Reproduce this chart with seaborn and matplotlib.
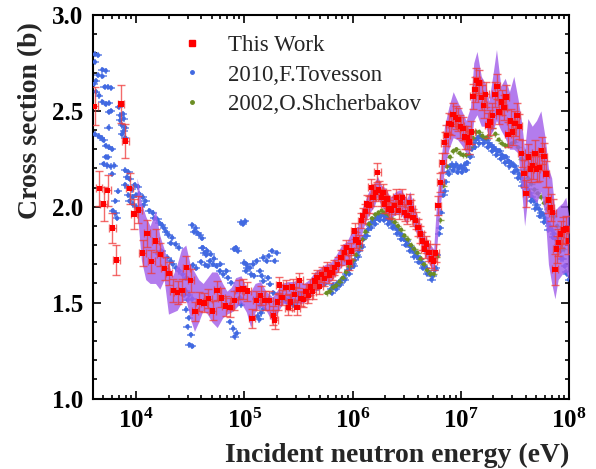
import numpy as np
import matplotlib
matplotlib.use('Agg')
import matplotlib.pyplot as plt
import seaborn as sns
from matplotlib.ticker import FuncFormatter, MultipleLocator, LogLocator, NullFormatter, FixedLocator
from matplotlib.lines import Line2D

# ---------------- data ----------------
# This Work (log10 of energy in eV, cross section in b, uncertainty in b)
red_logE = [3.618,3.660,3.701,3.738,3.781,3.819,3.861,3.901,3.942,3.981,
            4.021,4.062,4.102,4.142,4.182,4.224,4.264,4.304,4.344,4.384,
            4.424,4.466,4.506,4.546,4.586,4.628,4.668,4.708,4.748,4.789,
            4.829,4.869,4.909,4.949,4.989,5.030,5.071,5.111,5.151,5.192,
            5.231,5.270,5.282,5.310,5.324,5.347,5.387,5.407,5.426,5.447,
            5.465,5.488,5.509,5.526,5.546,5.571,5.593,5.611,5.632,5.655,
            5.673,5.694,5.716,5.741,5.762,5.787,5.812,5.833,5.864,5.895,
            5.926,5.942,5.966,5.988,6.019,6.034,6.058,6.081,6.095,6.120,
            6.132,6.151,6.173,6.188,6.210,6.229,6.243,6.266,6.281,6.296,
            6.318,6.336,6.358,6.389,6.405,6.426,6.442,6.460,6.481,6.503,
            6.528,6.543,6.558,6.583,6.605,6.627,6.645,6.667,6.682,6.706,
            6.729,6.750,6.769,6.790,6.812,6.831,6.852,6.868,6.892,6.914,
            6.929,6.954,6.975,6.997,7.021,7.037,7.058,7.077,7.099,7.114,
            7.130,7.145,7.169,7.192,7.213,7.231,7.253,7.269,7.293,7.315,
            7.336,7.355,7.377,7.398,7.417,7.438,7.460,7.479,7.500,7.521,
            7.540,7.562,7.583,7.602,7.623,7.645,7.664,7.685,7.701,7.725,
            7.747,7.769,7.787,7.808,7.831,7.849,7.870,7.886,7.901,7.923,
            7.947,7.972,7.994]
red_xs = [2.524,2.096,2.014,2.085,1.890,1.723,2.536,2.342,2.096,1.962,
          1.984,1.759,1.861,1.716,1.822,1.752,1.679,1.652,1.563,1.553,
          1.563,1.682,1.617,1.455,1.504,1.499,1.521,1.457,1.564,1.525,
          1.482,1.475,1.512,1.568,1.571,1.560,1.418,1.512,1.536,1.512,
          1.510,1.434,1.410,1.504,1.592,1.527,1.580,1.473,1.503,1.581,
          1.542,1.473,1.616,1.522,1.515,1.557,1.536,1.581,1.557,1.613,
          1.630,1.585,1.648,1.627,1.674,1.644,1.656,1.682,1.700,1.735,
          1.761,1.787,1.708,1.770,1.874,1.826,1.813,1.927,1.953,1.975,
          2.014,2.010,2.101,2.049,2.075,2.180,2.087,2.049,2.075,2.014,
          2.040,1.988,1.979,2.005,2.049,1.979,2.023,2.049,1.970,1.953,
          2.023,1.988,1.944,1.927,1.892,1.857,1.822,1.779,1.805,1.761,
          1.728,1.717,1.759,2.005,2.127,2.230,2.335,2.372,2.433,2.429,
          2.482,2.464,2.455,2.419,2.407,2.363,2.360,2.337,2.389,2.576,
          2.611,2.660,2.646,2.569,2.529,2.586,2.424,2.441,2.476,2.586,
          2.628,2.494,2.546,2.517,2.572,2.377,2.447,2.389,2.433,2.476,
          2.419,2.279,2.174,2.070,2.259,2.197,2.215,2.279,2.197,2.206,
          2.293,2.262,2.171,2.035,1.996,1.970,1.674,1.779,1.813,1.857,
          1.878,1.883,1.822]
red_err = [0.10,0.09,0.09,0.08,0.08,0.08,0.10,0.09,0.08,0.08,
           0.07,0.07,0.07,0.06,0.06,0.06,0.06,0.06,0.06,0.06,
           0.06,0.06,0.06,0.05,0.05,0.05,0.05,0.05,0.05,0.05,
           0.05,0.05,0.05,0.05,0.05,0.05,0.05,0.05,0.05,0.05,
           0.05,0.05,0.05,0.04,0.04,0.04,0.04,0.04,0.04,0.04,
           0.04,0.04,0.04,0.04,0.04,0.04,0.04,0.04,0.04,0.04,
           0.04,0.04,0.04,0.04,0.04,0.04,0.04,0.04,0.04,0.04,
           0.04,0.04,0.04,0.04,0.04,0.04,0.04,0.04,0.04,0.04,
           0.045,0.045,0.045,0.045,0.045,0.05,0.045,0.045,0.045,0.045,
           0.045,0.045,0.045,0.045,0.045,0.045,0.045,0.045,0.045,0.045,
           0.045,0.045,0.045,0.045,0.045,0.045,0.045,0.045,0.045,0.045,
           0.045,0.045,0.045,0.05,0.05,0.05,0.055,0.055,0.055,0.055,
           0.06,0.06,0.06,0.06,0.06,0.06,0.06,0.06,0.06,0.065,
           0.065,0.065,0.065,0.065,0.065,0.065,0.065,0.065,0.065,0.065,
           0.065,0.065,0.065,0.065,0.065,0.065,0.065,0.065,0.065,0.065,
           0.065,0.07,0.07,0.07,0.07,0.07,0.07,0.07,0.07,0.07,
           0.07,0.07,0.07,0.07,0.07,0.07,0.08,0.07,0.07,0.07,
           0.07,0.07,0.07]

# purple uncertainty band
band_logE = [4.01,4.05,4.09,4.13,4.18,4.22,4.26,4.30,4.34,4.38,
             4.42,4.46,4.50,4.54,4.58,4.62,4.66,4.70,4.75,4.80,
             4.84,4.88,4.92,4.97,5.02,5.06,5.10,5.15,5.20,5.26,
             5.30,5.35,5.40,5.45,5.50,5.55,5.60,5.65,5.70,5.75,
             5.80,5.85,5.90,5.95,6.00,6.05,6.10,6.15,6.20,6.23,
             6.27,6.30,6.35,6.40,6.45,6.50,6.53,6.57,6.62,6.67,
             6.71,6.75,6.78,6.81,6.85,6.89,6.93,6.97,7.01,7.05,
             7.09,7.12,7.15,7.19,7.23,7.26,7.30,7.33,7.37,7.41,
             7.45,7.49,7.53,7.56,7.59,7.62,7.66,7.70,7.74,7.78,
             7.81,7.84,7.87,7.90,7.94,7.97,8.00]
band_lo = [1.98,1.72,1.62,1.60,1.60,1.57,1.62,1.44,1.45,1.46,
           1.50,1.52,1.42,1.35,1.40,1.46,1.44,1.40,1.37,1.42,
           1.44,1.45,1.47,1.50,1.45,1.37,1.45,1.48,1.46,1.40,
           1.44,1.49,1.50,1.50,1.49,1.50,1.52,1.56,1.57,1.60,
           1.61,1.65,1.69,1.70,1.76,1.78,1.89,1.96,2.00,2.05,
           2.00,1.98,1.94,1.96,1.96,1.91,1.96,1.89,1.82,1.74,
           1.70,1.66,1.80,2.00,2.20,2.30,2.36,2.35,2.32,2.28,
           2.30,2.45,2.48,2.42,2.42,2.36,2.40,2.45,2.40,2.36,
           2.30,2.30,2.28,2.10,1.90,2.05,2.05,2.02,2.08,1.95,
           1.70,1.60,1.52,1.62,1.65,1.66,1.62]
band_hi = [2.15,2.02,1.95,1.90,1.98,1.85,1.78,1.70,1.64,1.70,
           1.78,1.80,1.70,1.66,1.62,1.60,1.63,1.66,1.66,1.60,
           1.56,1.58,1.63,1.64,1.58,1.56,1.60,1.61,1.56,1.53,
           1.56,1.60,1.61,1.61,1.62,1.60,1.62,1.66,1.68,1.70,
           1.71,1.75,1.80,1.82,1.88,1.90,2.01,2.08,2.12,2.16,
           2.11,2.10,2.05,2.08,2.09,2.04,2.08,2.00,1.92,1.84,
           1.81,1.78,2.05,2.20,2.42,2.52,2.60,2.55,2.50,2.45,
           2.52,2.75,2.81,2.68,2.64,2.55,2.70,2.82,2.63,2.67,
           2.60,2.68,2.56,2.45,2.30,2.46,2.42,2.45,2.50,2.36,
           2.20,2.15,1.98,2.00,2.02,2.05,1.95]

# 2010, F.Tovesson
blue_logE = [3.62,3.65,3.62,3.69,3.72,3.65,3.69,3.63,3.61,3.71,3.74,3.77,3.63,3.66,3.69,
             3.72,3.75,3.75,3.77,3.84,3.855,3.88,3.855,3.886,3.87,3.90,3.886,3.87,3.90,3.747,
             3.62,3.655,3.68,3.70,3.72,3.75,3.78,3.72,3.74,3.70,3.735,3.766,3.80,3.78,3.90,
             3.93,3.917,3.94,3.834,3.90,3.93,3.963,3.988,4.019,3.93,3.97,4.00,3.81,3.94,3.97,
             4.00,3.785,3.81,3.825,4.03,4.062,4.087,4.07,4.124,4.155,4.167,4.198,4.216,4.24,4.26,
             4.278,4.30,4.334,4.32,4.365,4.395,4.235,4.21,4.29,4.32,4.34,4.37,4.40,4.43,4.463,
             4.494,4.52,4.55,4.535,4.568,4.587,4.61,4.617,4.657,4.69,4.525,4.556,4.60,4.642,4.445,
             4.476,4.463,4.488,4.476,4.507,4.494,4.52,4.46,4.49,4.52,
             4.614,4.633,4.65,4.682,4.664,4.713,4.744,4.775,4.806,4.836,4.849,4.88,4.93,4.96,4.972,
             4.972,4.99,5.01,5.02,5.052,5.083,5.065,5.114,5.145,5.176,5.207,5.225,5.256,5.28,5.30,
             5.176,5.238,5.27,4.867,4.898,4.93,4.91,5.114,5.145,5.176,5.33,5.36,5.392,5.423,5.454,
             5.485,5.515,5.558,5.124,5.155,5.14,4.923,4.94,4.908,5.00,5.031,5.016,4.72,4.78,5.09,
             5.16,5.22,5.309,5.371,5.432,5.494,5.556,5.618,5.68,5.741,
             5.80,5.82,5.84,5.86,5.88,5.90,5.92,5.94,5.96,5.98,6.00,6.02,6.04,6.06,6.08,
             6.10,6.12,6.14,6.16,6.18,6.20,6.22,6.24,6.26,6.28,6.30,6.32,6.34,6.36,6.38,
             6.40,6.42,6.44,6.46,6.48,6.50,6.52,6.54,6.56,6.58,6.60,6.62,6.64,6.66,6.68,
             6.70,6.72,6.74,6.76,6.78,6.80,6.82,6.84,6.86,6.88,6.90,6.92,6.94,6.96,6.98,
             7.00,7.02,7.04,7.06,7.08,7.10,7.12,7.14,7.16,7.18,7.20,7.22,7.24,7.26,7.28,
             7.30,7.32,7.34,7.36,7.38,7.40,7.42,7.44,7.46,7.48,7.50,7.52,7.54,7.56,7.58,
             7.60,7.62,7.64,7.66,7.68,7.70,7.72,7.74,7.76,7.78,7.80,7.82,7.84,7.86,7.88,
             7.90,7.92,7.94,7.96,7.98,8.00,
             5.81,5.85,5.89,5.93,5.97,6.01,6.05,6.09,6.13,6.17,6.21,6.25,6.29,6.33,6.37,
             6.41,6.45,6.49,6.53,6.57,6.61,6.65,6.69,6.73,6.77,6.81,6.85,6.89,6.93,6.97,
             7.01,7.05,7.09,7.13,7.17,7.21,7.25,7.29,7.33,7.37,7.41,7.45,7.49,7.53,7.57,
             7.61,7.65,7.69,7.73,7.77,7.81,7.85,7.89,7.93,7.97]
blue_xs = [2.795,2.79,2.755,2.715,2.71,2.686,2.68,2.657,2.64,2.625,2.625,2.62,2.60,2.58,2.547,
           2.535,2.54,2.494,2.50,2.52,2.476,2.485,2.45,2.46,2.425,2.413,2.395,2.378,2.36,2.413,
           2.378,2.368,2.36,2.346,2.319,2.31,2.30,2.26,2.258,2.224,2.215,2.21,2.215,2.171,2.19,
           2.18,2.154,2.145,2.08,2.115,2.10,2.09,2.115,2.105,2.06,2.05,2.06,2.03,2.03,2.014,
           2.00,1.98,1.965,1.94,2.067,2.05,2.03,2.01,1.98,1.968,1.94,1.934,1.916,1.905,1.888,
           1.87,1.853,1.839,1.81,1.804,1.787,1.77,1.752,1.735,1.717,1.70,1.682,1.665,1.647,1.63,
           1.62,1.905,1.888,1.87,1.864,1.853,1.835,1.787,1.77,1.752,1.696,1.679,1.713,1.696,1.54,
           1.515,1.464,1.421,1.375,1.333,1.281,1.272,1.56,1.54,1.52,
           1.787,1.76,1.749,1.717,1.69,1.70,1.69,1.665,1.647,1.665,1.63,1.604,1.56,1.525,1.49,
           1.918,1.91,1.924,1.70,1.682,1.70,1.647,1.717,1.665,1.735,1.717,1.744,1.77,1.717,1.76,
           1.612,1.595,1.551,1.40,1.365,1.34,1.323,1.521,1.486,1.468,1.538,1.52,1.503,1.52,1.486,
           1.503,1.538,1.52,1.429,1.447,1.412,1.787,1.77,1.778,1.709,1.683,1.665,1.73,1.70,1.64,
           1.64,1.63,1.508,1.526,1.534,1.543,1.552,1.56,1.578,1.595,
           1.57,1.59,1.58,1.60,1.59,1.62,1.63,1.65,1.67,1.68,1.70,1.72,1.75,1.77,1.80,
           1.83,1.85,1.88,1.90,1.92,1.93,1.94,1.95,1.95,1.96,1.95,1.94,1.93,1.92,1.90,
           1.89,1.88,1.86,1.85,1.83,1.82,1.80,1.79,1.77,1.76,1.74,1.73,1.71,1.69,1.68,
           1.66,1.65,1.64,1.67,1.75,1.86,1.97,2.06,2.13,2.18,2.21,2.22,2.21,2.22,2.20,
           2.21,2.20,2.22,2.23,2.27,2.30,2.33,2.35,2.36,2.37,2.36,2.35,2.35,2.33,2.32,
           2.31,2.30,2.29,2.29,2.27,2.26,2.26,2.24,2.23,2.22,2.21,2.19,2.17,2.15,2.13,
           2.11,2.09,2.07,2.05,2.03,2.01,1.99,1.97,1.96,1.94,1.92,1.90,1.88,1.86,1.83,
           1.80,1.77,1.73,1.69,1.65,1.62,
           1.55,1.57,1.60,1.62,1.65,1.69,1.74,1.79,1.85,1.89,1.91,1.93,1.93,1.91,1.89,
           1.86,1.83,1.80,1.77,1.74,1.71,1.68,1.65,1.62,1.68,1.89,2.08,2.17,2.19,2.18,
           2.18,2.19,2.26,2.31,2.33,2.33,2.31,2.29,2.27,2.25,2.23,2.21,2.18,2.15,2.11,
           2.07,2.03,1.99,1.95,1.92,1.88,1.84,1.79,1.73,1.66]

# 2002, O.Shcherbakov
green_logE = [5.76,5.79,5.82,5.85,5.88,5.91,5.94,5.97,6.00,6.03,6.06,6.09,6.12,6.15,6.18,
              6.21,6.24,6.27,6.30,6.33,6.36,6.39,6.42,6.45,6.48,6.51,6.54,6.57,6.60,6.63,
              6.66,6.69,6.72,6.75,6.78,6.81,6.84,6.87,6.90,6.93,6.96,6.99,7.02,7.05,7.08,
              7.11,7.14,7.17,7.20,7.23,7.26,7.29,7.32,7.35,7.38,7.41,7.44,7.47,7.50,7.53,
              7.56,7.59,7.62,7.65,7.68,7.71,7.74,7.77,7.80,7.83,7.86,7.89,7.92,7.95]
green_xs = [1.55,1.56,1.58,1.59,1.61,1.63,1.66,1.69,1.72,1.75,1.79,1.83,1.87,1.91,1.94,
            1.96,1.97,1.98,1.97,1.96,1.94,1.92,1.90,1.88,1.85,1.83,1.80,1.78,1.76,1.73,
            1.70,1.67,1.65,1.65,1.74,1.93,2.11,2.21,2.26,2.29,2.30,2.28,2.27,2.27,2.31,
            2.36,2.39,2.39,2.37,2.36,2.37,2.41,2.38,2.35,2.33,2.32,2.32,2.33,2.34,2.31,
            2.25,2.19,2.15,2.12,2.09,2.07,2.05,2.02,1.99,1.97,1.95,1.90,1.84,1.78]

labels = ["This Work", "2010,F.Tovesson", "2002,O.Shcherbakov"]

# ---------------- style ----------------
sns.set_theme(style="ticks")
plt.rcParams['font.family'] = ['Liberation Serif', 'DejaVu Serif']
plt.rcParams['font.weight'] = 'bold'
plt.rcParams['mathtext.fontset'] = 'custom'
plt.rcParams['mathtext.rm'] = 'Liberation Serif:bold'
plt.rcParams['mathtext.bf'] = 'Liberation Serif:bold'
plt.rcParams['mathtext.it'] = 'Liberation Serif:bold:italic'

RED = '#FF0000'
BLUE = '#4169E1'
GREEN = '#6B8E23'
PURPLE = '#A35FEA'

fig = plt.figure(figsize=(5.96, 4.69), dpi=100)
ax = fig.add_axes([92.7/596, 1 - 398.5/469, 476.3/596, 383.5/469])
ax.set_xscale('log')

def to_E(lst):
    return 10.0 ** np.asarray(lst, dtype=float)

def xerr_of(E, d):
    return np.vstack([E - E * 10 ** (-d), E * 10 ** d - E])

# Tovesson
bE = to_E(blue_logE); bY = np.asarray(blue_xs)
ax.errorbar(bE, bY, xerr=xerr_of(bE, 0.038), yerr=0.016, fmt='none',
            ecolor=BLUE, elinewidth=1.1, alpha=0.8, zorder=2)
sns.scatterplot(x=bE, y=bY, ax=ax, color=BLUE, marker='o', s=10,
                edgecolor='none', linewidth=0, zorder=3, legend=False)

# Shcherbakov
gE = to_E(green_logE); gY = np.asarray(green_xs)
ax.errorbar(gE, gY, xerr=xerr_of(gE, 0.032), yerr=0.014, fmt='none',
            ecolor=GREEN, elinewidth=1.0, alpha=0.75, zorder=3)
sns.scatterplot(x=gE, y=gY, ax=ax, color=GREEN, marker='o', s=9,
                edgecolor='none', linewidth=0, zorder=4, legend=False)

# band
ax.fill_between(to_E(band_logE), band_lo, band_hi, color=PURPLE, alpha=0.82,
                linewidth=0, zorder=5)

# This work
rE = to_E(red_logE); rY = np.asarray(red_xs)
ax.errorbar(rE, rY, yerr=red_err, xerr=xerr_of(rE, 0.03), fmt='none',
            ecolor='#F03a3a', elinewidth=1.0, capsize=3, capthick=1.0,
            alpha=0.75, zorder=6)
sns.scatterplot(x=rE, y=rY, ax=ax, color=RED, marker='s', s=15,
                edgecolor='none', linewidth=0, zorder=7, legend=False)

# axes
ax.set_xlim(10 ** 3.6, 1e8)
ax.set_ylim(1.0, 3.0)
ax.xaxis.set_major_locator(FixedLocator([1e4, 1e5, 1e6, 1e7, 1e8]))
ax.xaxis.set_major_formatter(FuncFormatter(lambda v, p: r'$\mathbf{10^{%d}}$' % int(round(np.log10(v)))))
ax.xaxis.set_minor_locator(LogLocator(base=10, subs=np.arange(2, 10), numticks=20))
ax.xaxis.set_minor_formatter(NullFormatter())
ax.yaxis.set_major_locator(MultipleLocator(0.5))
ax.yaxis.set_minor_locator(MultipleLocator(0.1))
ax.yaxis.set_major_formatter(FuncFormatter(lambda v, p: '%.1f' % v))

ax.tick_params(which='both', direction='in', top=True, right=True, width=1.2,
               labelsize=18, colors='black')
ax.tick_params(which='major', length=6, pad=7)
ax.tick_params(which='minor', length=3)
for sp in ax.spines.values():
    sp.set_linewidth(1.5)
    sp.set_color('black')
for lbl in ax.get_yticklabels():
    lbl.set_fontweight('bold')

ax.set_xlabel('Incident neutron energy (eV)', fontsize=20, fontweight='bold')
ax.set_ylabel('Cross section (b)', fontsize=20, fontweight='bold')
ax.xaxis.set_label_coords(1.0, -0.115)
ax.xaxis.label.set_ha('right')
ax.yaxis.set_label_coords(-0.105, 0.726)

handles = [Line2D([], [], linestyle='none', marker='s', markersize=4, color=RED),
           Line2D([], [], linestyle='none', marker='o', markersize=2.5, color=BLUE),
           Line2D([], [], linestyle='none', marker='o', markersize=2.5, color=GREEN)]
ax.legend(handles, labels, loc='upper left', bbox_to_anchor=(0.184, 0.948),
          frameon=False, borderpad=0, borderaxespad=0, handlelength=1.0,
          handletextpad=1.07, labelspacing=0.37,
          prop={'family': 'Liberation Serif', 'size': 16.5, 'weight': 'normal'})

fig.savefig('out.png', dpi=100)
